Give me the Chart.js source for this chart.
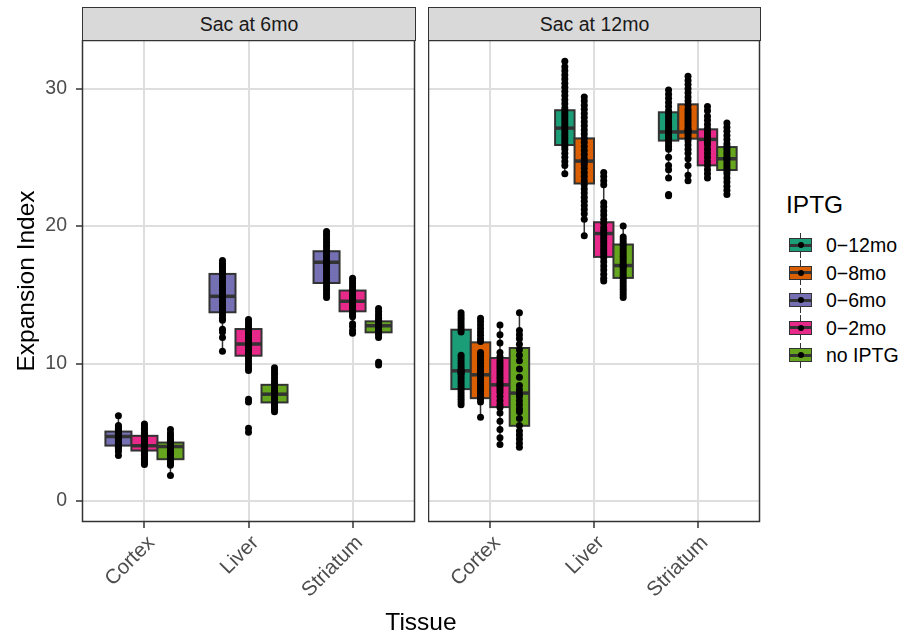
<!DOCTYPE html>
<html>
<head>
<meta charset="utf-8">
<script src="https://cdn.jsdelivr.net/npm/chart.js@4"></script>
<style>
  body { margin: 0; background: #fff; font-family: "Liberation Sans", Arial, sans-serif; }
  #wrap { position: relative; width: 909px; height: 637px; overflow: hidden; }
  canvas { position: absolute; }
  .strip { position: absolute; top: 7px; height: 34px; background: #d9d9d9; border: 1px solid #333;
           box-sizing: border-box; text-align: center; font-size: 19.5px; line-height: 32px; color: #1a1a1a; }
  .title { position: absolute; font-size: 24.5px; color: #000; text-align: center; line-height: 28px; white-space: nowrap; }
  .key { position: absolute; left: 789px; width: 23px; height: 25px; }
  .key .wh { position: absolute; left: 10.75px; top: 0; width: 1.5px; height: 25px; background: #333; }
  .key .bx { position: absolute; left: 0; top: 5.5px; width: 23px; height: 14px; border: 1.5px solid #333; box-sizing: border-box; }
  .key .md { position: absolute; left: 0; top: 11px; width: 23px; height: 3px; background: #333; }
  .key .dot { position: absolute; left: 8.5px; top: 9.5px; width: 6px; height: 6px; border-radius: 50%; background: #000; }
  .klab { position: absolute; left: 826px; font-size: 19.5px; line-height: 24px; color: #000; white-space: nowrap; }
</style>
</head>
<body>
<div id="wrap">
  <div class="strip" style="left:82px;width:334px;">Sac at 6mo</div>
  <div class="strip" style="left:428px;width:333px;">Sac at 12mo</div>
  <canvas id="c6" width="420" height="597" style="left:0;top:40px;"></canvas>
  <canvas id="c12" width="340" height="597" style="left:428px;top:40px;"></canvas>
  <div class="title" style="left:-124px;top:267px;width:300px;transform:rotate(-90deg);">Expansion Index</div>
  <div class="title" style="left:321px;top:608px;width:200px;">Tissue</div>
  <div class="title" style="left:786px;top:191px;text-align:left;">IPTG</div>
  <div id="legend"></div>
</div>
<script>
// ---- data ----
const tissues = ["Cortex", "Liver", "Striatum"];
const iptgLevels = ["0\u221212mo", "0\u22128mo", "0\u22126mo", "0\u22122mo", "no IPTG"];
const iptgColors = ["#1B9E77", "#D95F02", "#7570B3", "#E7298A", "#66A61E"];
const yTicks = [0, 10, 20, 30];

// which IPTG groups appear in each facet (index into iptgLevels)
const groups6 = [2, 3, 4];
const groups12 = [0, 1, 3, 4];

// box stats per group: [lower whisker, q1, median, q3, upper whisker]
const box6Cortex   = [[3.3, 4.03, 4.69, 5.05, 6.2], [2.65, 3.67, 4.02, 4.74, 5.6], [1.85, 3.04, 3.96, 4.25, 5.2]];
const box6Liver    = [[10.9, 13.73, 14.89, 16.52, 17.5], [9.5, 10.57, 11.42, 12.51, 13.2], [6.5, 7.17, 7.77, 8.45, 9.7]];
const box6Striatum = [[14.8, 15.86, 17.37, 18.17, 19.6], [12.2, 13.8, 14.53, 15.31, 16.2], [11.9, 12.27, 12.75, 13.07, 14.0]];

const box12Cortex   = [[7.0, 8.14, 9.47, 12.46, 13.7], [6.1, 7.48, 9.18, 11.54, 13.3], [4.1, 6.83, 8.45, 10.4, 12.8], [3.9, 5.47, 7.85, 11.13, 13.7]];
const box12Liver    = [[23.8, 25.9, 27.13, 28.43, 32.0], [19.3, 23.1, 24.73, 26.38, 29.4], [16.0, 17.76, 19.46, 20.28, 23.9], [14.8, 16.23, 17.13, 18.66, 20.0]];
const box12Striatum = [[23.5, 26.22, 26.85, 28.28, 29.9], [23.3, 26.36, 26.85, 28.86, 30.9], [23.4, 24.42, 26.31, 27.04, 28.66], [22.3, 24.08, 24.9, 25.75, 27.5]];

// individual measurements per group
const pts6Cortex = [
  [6.2, 5.5, 5.4, 5.3, 5.2, 5.1, 5.0, 4.9, 4.85, 4.8, 4.7, 4.65, 4.6, 4.5, 4.45, 4.4, 4.3, 4.2, 4.1, 4.0, 3.95, 3.9, 3.8, 3.6, 3.3],
  [5.6, 5.45, 5.3, 5.2, 5.0, 4.9, 4.8, 4.7, 4.6, 4.5, 4.4, 4.3, 4.2, 4.1, 4.05, 4.0, 3.95, 3.9, 3.8, 3.7, 3.6, 3.5, 3.4, 3.3, 3.2, 3.1, 3.0, 2.9, 2.8, 2.65],
  [5.2, 4.95, 4.8, 4.65, 4.5, 4.4, 4.3, 4.2, 4.1, 4.0, 3.95, 3.9, 3.85, 3.8, 3.7, 3.6, 3.5, 3.4, 3.3, 3.2, 3.1, 3.0, 2.9, 2.8, 2.7, 2.6, 1.85]
];
const pts6Liver = [
  [17.5, 17.3, 17.15, 17.0, 16.85, 16.7, 16.55, 16.4, 16.2, 16.0, 15.8, 15.6, 15.4, 15.2, 15.0, 14.9, 14.8, 14.6, 14.4, 14.2, 14.0, 13.85, 13.7, 13.5, 13.3, 13.15, 12.5, 12.3, 11.9, 10.9],
  [13.2, 13.0, 12.8, 12.7, 12.5, 12.35, 12.2, 12.0, 11.9, 11.75, 11.6, 11.5, 11.4, 11.3, 11.15, 11.0, 10.85, 10.7, 10.55, 10.4, 10.2, 10.0, 9.8, 9.65, 9.5, 7.4, 7.2, 5.3, 5.0],
  [9.7, 9.5, 9.3, 9.1, 8.9, 8.7, 8.55, 8.4, 8.25, 8.1, 8.0, 7.9, 7.8, 7.75, 7.7, 7.6, 7.5, 7.4, 7.3, 7.2, 7.1, 7.0, 6.9, 6.8, 6.65, 6.5]
];
const pts6Striatum = [
  [19.6, 19.4, 19.2, 19.0, 18.8, 18.6, 18.4, 18.2, 18.0, 17.8, 17.6, 17.45, 17.3, 17.2, 17.0, 16.8, 16.6, 16.4, 16.2, 16.0, 15.8, 15.6, 15.4, 15.2, 15.0, 14.8],
  [16.2, 16.0, 15.8, 15.6, 15.4, 15.25, 15.1, 14.95, 14.8, 14.7, 14.6, 14.5, 14.4, 14.3, 14.15, 14.0, 13.85, 13.7, 13.55, 13.4, 12.9, 12.7, 12.4, 12.2],
  [14.0, 13.8, 13.6, 13.45, 13.3, 13.15, 13.0, 12.9, 12.8, 12.75, 12.7, 12.6, 12.5, 12.4, 12.3, 12.2, 12.1, 11.9, 10.1, 9.9]
];
const pts12Cortex = [
  [13.7, 13.5, 13.3, 13.1, 12.9, 12.7, 12.5, 12.3, 10.6, 10.4, 10.2, 10.0, 9.8, 9.6, 9.5, 9.4, 9.3, 9.2, 9.0, 8.8, 8.6, 8.4, 8.2, 8.0, 7.8, 7.6, 7.4, 7.2, 7.0],
  [13.3, 13.05, 12.8, 12.55, 12.3, 12.05, 11.8, 11.6, 10.8, 10.6, 10.4, 10.2, 10.0, 9.8, 9.6, 9.4, 9.2, 9.0, 8.8, 8.6, 8.4, 8.2, 8.0, 7.8, 7.6, 7.4, 7.2, 6.1],
  [12.8, 12.1, 11.5, 10.8, 10.5, 10.2, 10.0, 9.8, 9.6, 9.4, 9.2, 9.0, 8.8, 8.6, 8.45, 8.3, 8.1, 7.9, 7.6, 7.3, 7.0, 6.8, 6.4, 5.8, 5.2, 4.6, 4.1],
  [13.7, 12.4, 12.1, 11.8, 11.4, 11.0, 10.6, 10.2, 9.6, 9.0, 8.4, 8.1, 7.8, 7.6, 7.3, 7.0, 6.7, 6.5, 6.0, 5.5, 5.1, 4.8, 4.5, 4.2, 3.9]
];
const pts12Liver = [
  [32.0, 31.6, 31.3, 31.0, 30.7, 30.4, 30.1, 29.8, 29.5, 29.2, 28.9, 28.6, 28.4, 28.2, 28.0, 27.8, 27.6, 27.4, 27.2, 27.0, 26.8, 26.6, 26.4, 26.2, 26.0, 25.8, 25.6, 25.3, 25.0, 24.7, 24.4, 23.8],
  [29.4, 29.1, 28.8, 28.5, 28.2, 27.9, 27.6, 27.3, 27.0, 26.7, 26.4, 26.1, 25.8, 25.5, 25.2, 24.9, 24.7, 24.5, 24.2, 23.9, 23.6, 23.3, 23.0, 22.7, 22.4, 22.1, 21.8, 21.5, 21.2, 20.9, 20.5, 19.3],
  [23.9, 23.6, 23.3, 23.0, 21.7, 21.4, 21.1, 20.8, 20.5, 20.2, 19.9, 19.7, 19.5, 19.3, 19.1, 18.9, 18.7, 18.5, 18.3, 18.1, 17.9, 17.7, 17.4, 17.1, 16.8, 16.5, 16.2, 16.0],
  [20.0, 19.2, 19.0, 18.8, 18.6, 18.4, 18.2, 18.0, 17.8, 17.6, 17.4, 17.2, 17.1, 17.0, 16.8, 16.6, 16.4, 16.2, 16.0, 15.8, 15.6, 15.4, 15.2, 15.0, 14.8]
];
const pts12Striatum = [
  [29.9, 29.6, 29.3, 29.0, 28.7, 28.4, 28.2, 28.0, 27.8, 27.6, 27.4, 27.2, 27.0, 26.9, 26.8, 26.6, 26.4, 26.2, 26.0, 25.8, 25.6, 25.0, 24.4, 24.1, 23.5, 22.3, 22.2],
  [30.9, 30.6, 30.3, 30.0, 29.7, 29.4, 29.1, 28.8, 28.5, 28.3, 28.1, 27.9, 27.7, 27.5, 27.3, 27.1, 27.0, 26.9, 26.8, 26.6, 26.4, 26.2, 25.9, 25.6, 25.3, 24.9, 24.4, 23.7, 23.3],
  [28.7, 28.4, 28.0, 27.7, 27.4, 27.1, 26.9, 26.7, 26.5, 26.3, 26.1, 25.9, 25.6, 25.3, 25.0, 24.7, 24.4, 24.1, 23.8, 23.5],
  [27.5, 27.2, 26.9, 26.6, 26.3, 26.0, 25.8, 25.6, 25.4, 25.2, 25.0, 24.9, 24.8, 24.6, 24.4, 24.2, 24.0, 23.8, 23.5, 23.2, 22.9, 22.6, 22.3]
];

// ---- drawing ----
const FONT = '"Liberation Sans", Arial, sans-serif';
Chart.defaults.font.family = FONT;

const dodge = 0.75;

// x position of group gi out of n inside tissue ti
function xPos(ti, gi, n) {
  const w = dodge / n;
  return ti + 1 - dodge / 2 + w * (gi + 0.5);
}

// keep the plot panel exactly where the axis sizes put it
function noPad(s) {
  s.paddingTop = 0; s.paddingBottom = 0; s.paddingLeft = 0; s.paddingRight = 0;
}

function boxPlugin(facet) {
  return {
    id: 'boxes',
    beforeDatasetsDraw(chart) {
      const { ctx, scales: { x, y } } = chart;
      const n = facet.groups.length;
      const w = dodge / n;
      ctx.save();
      facet.boxes.forEach((tb, ti) => {
        tb.forEach((s, gi) => {
          const cx = xPos(ti, gi, n);
          const px = x.getPixelForValue(cx);
          const l = x.getPixelForValue(cx - w / 2);
          const r = x.getPixelForValue(cx + w / 2);
          const [lo, q1, md, q3, hi] = s.map(v => y.getPixelForValue(v));
          ctx.strokeStyle = '#333';
          ctx.lineWidth = 1.5;
          ctx.beginPath();
          ctx.moveTo(px, lo); ctx.lineTo(px, q1);
          ctx.moveTo(px, q3); ctx.lineTo(px, hi);
          ctx.stroke();
          ctx.fillStyle = iptgColors[facet.groups[gi]];
          ctx.fillRect(l, q3, r - l, q1 - q3);
          ctx.lineWidth = 2;
          ctx.strokeRect(l, q3, r - l, q1 - q3);
          ctx.lineWidth = 3.5;
          ctx.beginPath();
          ctx.moveTo(l, md); ctx.lineTo(r, md);
          ctx.stroke();
        });
      });
      ctx.restore();
    },
    afterDraw(chart) {
      const { ctx, chartArea: a } = chart;
      ctx.save();
      ctx.strokeStyle = '#333';
      ctx.lineWidth = 1.5;
      ctx.strokeRect(a.left + 0.5, a.top + 0.5, a.right - a.left - 1, a.bottom - a.top - 1);
      ctx.restore();
    }
  };
}

function makeFacet(id, facet, showY, padRight) {
  const n = facet.groups.length;
  const points = facet.points.flatMap((tp, ti) =>
    tp.flatMap((vals, gi) => vals.map(v => ({ x: xPos(ti, gi, n), y: v }))));

  new Chart(document.getElementById(id), {
    type: 'scatter',
    data: {
      datasets: [{
        data: points,
        pointRadius: 3.5,
        pointBackgroundColor: '#000',
        pointBorderWidth: 0,
        showLine: false
      }]
    },
    options: {
      responsive: false,
      animation: false,
      layout: { autoPadding: false, padding: { left: 0, right: padRight, top: 0, bottom: 0 } },
      plugins: { legend: { display: false }, tooltip: { enabled: false } },
      scales: {
        x: {
          type: 'linear', min: 0.4, max: 3.6,
          afterBuildTicks: s => { s.ticks = tissues.map((t, i) => ({ value: i + 1 })); },
          afterFit: s => { s.height = 115; noPad(s); },
          border: { display: false },
          grid: { color: '#dedede', lineWidth: 2, tickLength: 6, tickColor: '#333', tickWidth: 1.5 },
          ticks: {
            autoSkip: false, minRotation: 45, maxRotation: 45, padding: 3, labelOffset: 7,
            color: '#4d4d4d', font: { size: 20.5 },
            callback: v => tissues[Math.round(v) - 1]
          }
        },
        y: {
          type: 'linear', min: -1.53, max: 33.54,
          afterBuildTicks: s => { s.ticks = yTicks.map(v => ({ value: v })); },
          afterFit: s => { s.width = showY ? 82 : 0; noPad(s); },
          border: { display: false },
          grid: { color: '#dedede', lineWidth: 2, drawTicks: showY, tickLength: 6, tickColor: '#333', tickWidth: 1.5 },
          ticks: { display: showY, padding: 9, color: '#4d4d4d', font: { size: 19.5 } }
        }
      }
    },
    plugins: [boxPlugin(facet)]
  });
}

makeFacet('c6', { groups: groups6, boxes: [box6Cortex, box6Liver, box6Striatum], points: [pts6Cortex, pts6Liver, pts6Striatum] }, true, 5);
makeFacet('c12', { groups: groups12, boxes: [box12Cortex, box12Liver, box12Striatum], points: [pts12Cortex, pts12Liver, pts12Striatum] }, false, 8);

// legend
const leg = document.getElementById('legend');
iptgLevels.forEach((lab, i) => {
  const cy = 245 + i * 27.5;
  leg.insertAdjacentHTML('beforeend',
    `<div class="key" style="top:${cy - 12.5}px"><div class="wh"></div>` +
    `<div class="bx" style="background:${iptgColors[i]}"></div><div class="md"></div><div class="dot"></div></div>` +
    `<div class="klab" style="top:${cy - 12}px">${lab}</div>`);
});
</script>
</body>
</html>
